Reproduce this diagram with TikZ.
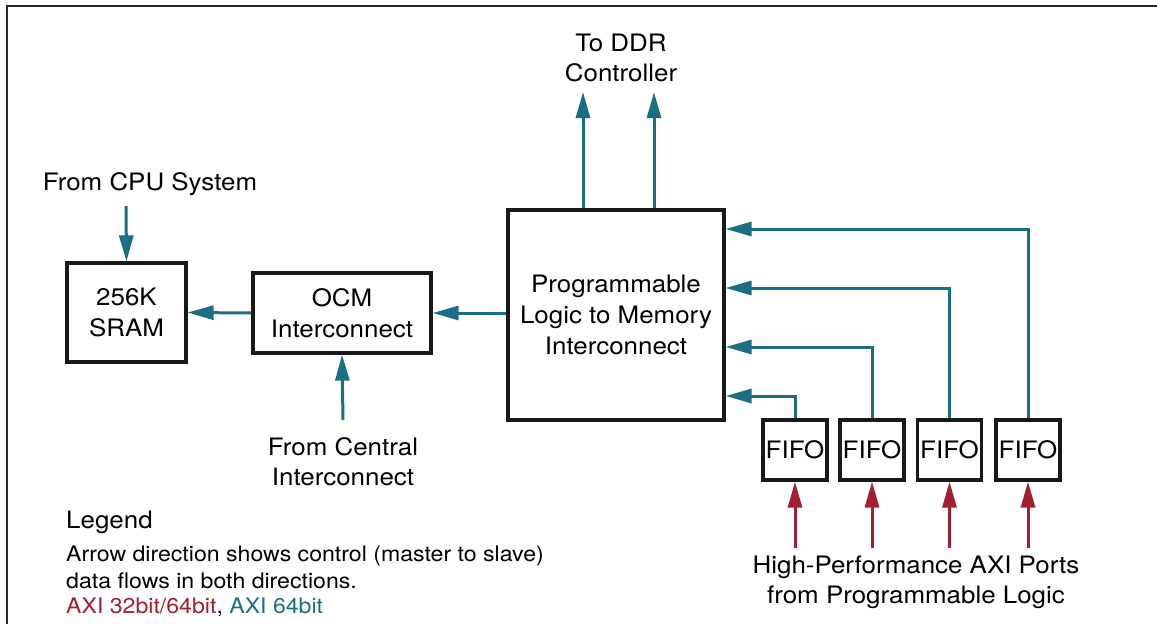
\documentclass[tikz,border=0pt]{standalone}
\usepackage{fontspec}
\setmainfont[FakeStretch=1.08]{TeX Gyre Heros}
\usetikzlibrary{arrows.meta,calc}
\definecolor{axiteal}{RGB}{27,111,132}
\definecolor{axired}{RGB}{162,31,50}
\tikzset{
  blk/.style={draw=black!90, line width=3.2pt, minimum width=#1, inner sep=0pt, align=center,
              font=\fontsize{24}{31}\selectfont},
  tealarrow/.style={draw=axiteal, line width=3pt, -{Triangle[length=26pt,width=14pt]}},
  redarrow/.style={draw=axired, line width=3pt, -{Triangle[length=26pt,width=14pt]}},
  lbl/.style={align=center, inner sep=0pt, font=\fontsize{24}{30}\selectfont},
  leg/.style={anchor=west, inner sep=0pt, font=\fontsize{21.4}{26}\selectfont},
}
\begin{document}
\begin{tikzpicture}[x=1pt, y=-1pt]
\useasboundingbox (0,0) rectangle (1157,624);
% frame edges
\draw[line width=2pt, black!85] (1157,6) -- (7,6) -- (7,624);

% blocks
\node[blk=119pt, minimum height=99pt] (sram) at (126.5,312.5) {256K\\SRAM};
\node[blk=178pt, minimum height=80pt] (ocm) at (342,313) {OCM\\Interconnect};
\node[blk=216pt, minimum height=210pt] (plm) at (616,315) {Programmable\\Logic to Memory\\Interconnect};
\foreach \i/\x in {1/795,2/872,3/949.5,4/1028}
  \node[blk=64pt, minimum height=60pt] (fifo\i) at (\x,450) {FIFO};

% labels
\node[lbl] (cpu) at (150,184) {From CPU System};
\node[lbl] (central) at (343,462) {From Central\\Interconnect};
\node[lbl] (ddr) at (621,58) {To DDR\\Controller};
\node[lbl] (hp) at (916,582) {High-Performance AXI Ports\\from Programmable Logic};

% free ends of connectors
\coordinate (cpuin) at (126,206);
\coordinate (cenin) at (343,420);
\coordinate (ddr1) at (583,92);
\coordinate (ddr2) at (654,92);

% teal connectors (AXI 64bit)
\draw[tealarrow] (cpuin) -- (sram.north);
\draw[tealarrow] (ocm.west) -- (sram.east);
\draw[tealarrow] (plm.west |- ocm.east) -- (ocm.east);
\draw[tealarrow] (cenin) -- (ocm.south);
\draw[tealarrow] (plm.north -| ddr1) -- (ddr1);
\draw[tealarrow] (plm.north -| ddr2) -- (ddr2);
\foreach \i/\y in {1/396,2/347,3/288,4/229}
  \draw[tealarrow] (fifo\i.north) |- ($(plm.east)+(0,\y-315)$);

% red connectors (AXI 32bit/64bit)
\foreach \i in {1,...,4}
  \draw[redarrow] (fifo\i.south |- 0,548) -- (fifo\i.south);

% legend
\node[leg, font=\fontsize{24}{30}\selectfont] (legend) at (66,522) {Legend};
\node[leg] (leg1) at (66,556) {Arrow direction shows control (master to slave)};
\node[leg] (leg2) at (66,581) {data flows in both directions.};
\node[leg] (leg3) at (66,607) {\textcolor{axired}{AXI 32bit/64bit}, \textcolor{axiteal}{AXI 64bit}};
\end{tikzpicture}
\end{document}
